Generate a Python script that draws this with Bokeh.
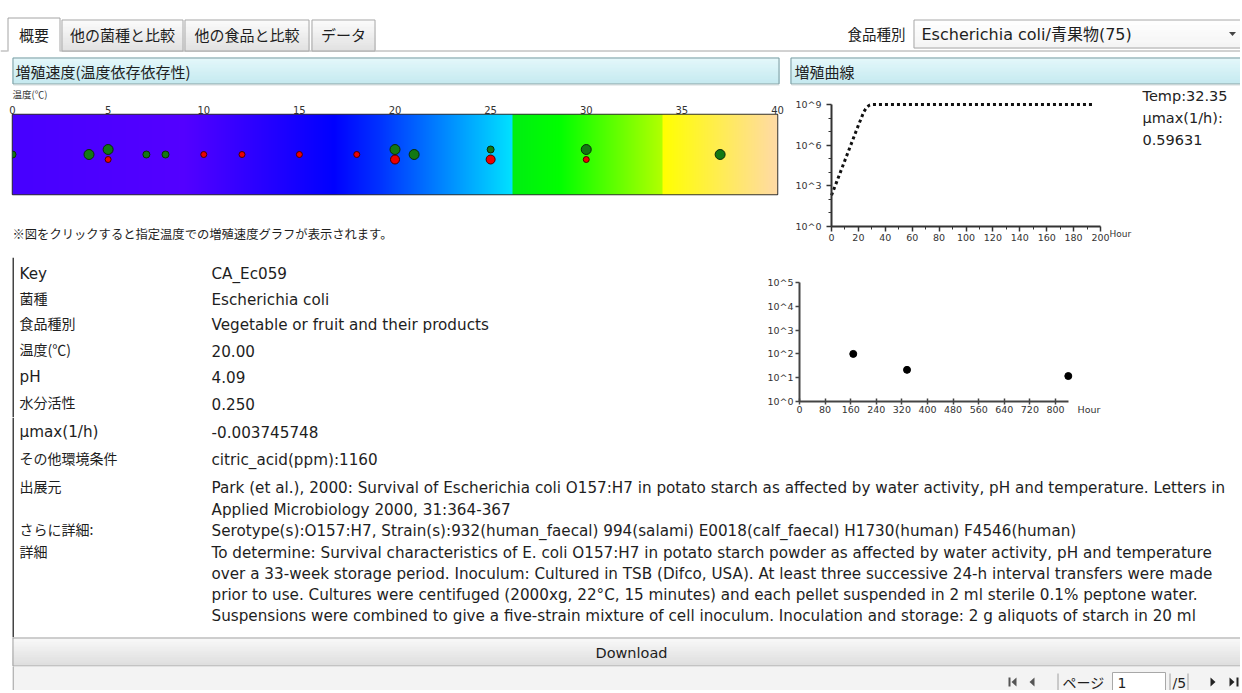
import numpy as np
from bokeh.plotting import figure
from bokeh.models import Range1d, FixedTicker, LinearAxis
from bokeh.layouts import column, row
from bokeh.embed import file_html
from bokeh.resources import INLINE
from bokeh.core.properties import value

# ---------------- data ----------------
tab_labels = ["概要", "他の菌種と比較", "他の食品と比較", "データ"]
selector_label = "食品種別"
selector_value = "Escherichia coli/青果物(75)"
rate_panel_title = "増殖速度(温度依存依存性)"
curve_panel_title = "増殖曲線"
temp_axis_title = "温度(℃)"
note_text = "※図をクリックすると指定温度での増殖速度グラフが表示されます。"

temp_ticks = [0, 5, 10, 15, 20, 25, 30, 35, 40]
growth_temp = [0, 4, 5, 7, 8, 20, 21, 25, 30, 37]
growth_slot = [0, 0, 1, 0, 0, 1, 0, 1, 1, 0]
growth_size = [7, 10, 10, 7, 7, 10, 10, 7, 10, 10]
death_temp = [5, 10, 12, 15, 18, 20, 25, 30]
death_slot = [-1, 0, 0, 0, 0, -1, -1, -1]
death_size = [6, 6, 6, 6, 6, 9, 9, 6]

curve_hour = [0, 4, 8, 12, 16, 20, 24, 26, 28, 30, 34, 40, 80, 120, 160, 195]
curve_log10 = [2.3, 3.33, 4.37, 5.4, 6.44, 7.47, 8.45, 8.78, 8.94, 9.0, 9.0, 9.0, 9.0, 9.0, 9.0, 9.0]
curve_x_ticks = [0, 20, 40, 60, 80, 100, 120, 140, 160, 180, 200]
curve_x_minor = [10, 30, 50, 70, 90, 110, 130, 150, 170, 190]
curve_y_ticks = [0, 3, 6, 9]
curve_y_minor = [1, 2, 4, 5, 7, 8]
curve_info = ["Temp:32.35", "μmax(1/h):", "0.59631"]

obs_hour = [168, 336, 840]
obs_log10 = [2.0, 1.33, 1.07]
obs_x_ticks = [0, 80, 160, 240, 320, 400, 480, 560, 640, 720, 800]
obs_y_ticks = [0, 1, 2, 3, 4, 5]

field_names = ["Key", "菌種", "食品種別", "温度(℃)", "pH", "水分活性",
               "μmax(1/h)", "その他環境条件", "出展元", "さらに詳細:", "詳細"]
field_values = ["CA_Ec059", "Escherichia coli", "Vegetable or fruit and their products",
                "20.00", "4.09", "0.250", "-0.003745748", "citric_acid(ppm):1160"]
source_lines = ["Park (et al.), 2000: Survival of Escherichia coli O157:H7 in potato starch as affected by water activity, pH and temperature.  Letters in",
                "Applied Microbiology 2000, 31:364-367"]
serotype_line = "Serotype(s):O157:H7, Strain(s):932(human_faecal) 994(salami) E0018(calf_faecal) H1730(human) F4546(human)"
detail_lines = ["To determine: Survival characteristics of E. coli O157:H7 in potato starch powder as affected by water activity, pH and temperature",
                "over a 33-week storage period.  Inoculum: Cultured in TSB (Difco, USA). At least three successive 24-h interval transfers were made",
                "prior to use.  Cultures were centifuged (2000xg, 22°C, 15 minutes) and each pellet suspended in 2 ml sterile 0.1% peptone water.",
                "Suspensions were combined to give a five-strain mixture of cell inoculum.  Inoculation and storage: 2 g aliquots of starch in 20 ml"]
download_label = "Download"
page_label = "ページ"
page_current = "1"
page_total = "/5"

# ---------------- style helpers ----------------
JP = "Noto Sans CJK JP"
LAT = "DejaVu Sans"
MIX = "DejaVu Sans, Noto Sans CJK JP"
TICKF = "DejaVu Sans"
BODY = "15.2px"
strip_stops = [(0, "#4600ff"), (9, "#5300ff"), (16.8, "#0000ff"), (19.2, "#0032ff"),
               (26.15, "#00e2ff"), (26.15, "#00ee12"), (28.6, "#00ff00"), (34.0, "#b2ff00"),
               (34.0, "#ffff00"), (40, "#ffdaa6")]


def hex2rgb(h):
    return [int(h[i:i + 2], 16) for i in (1, 3, 5)]


def pfig(x0, x1, y0, y1, bg="white"):
    p = figure(width=x1 - x0, height=y1 - y0, x_range=Range1d(x0, x1), y_range=Range1d(y1, y0),
               toolbar_location=None, output_backend="svg", min_border=0,
               min_border_left=0, min_border_right=0, min_border_top=0, min_border_bottom=0,
               x_axis_location=None, y_axis_location=None, title=None)
    p.grid.visible = False
    p.outline_line_color = None
    p.background_fill_color = bg
    p.border_fill_color = bg
    return p


def txt(p, x, y, s, size="13px", font=JP, color="#1e1e1e", align="left", baseline="middle"):
    p.text(x=[x], y=[y], text=[s], text_font=value(font), text_font_size=size,
           text_color=color, text_align=align, text_baseline=baseline)


def vgrad(p, x0, x1, y0, y1, c0, c1):
    n = max(1, int(round(y1 - y0)))
    a = np.array(hex2rgb(c0), float)
    b = np.array(hex2rgb(c1), float)
    tops = [y0 + (y1 - y0) * i / n for i in range(n)]
    bots = [y0 + (y1 - y0) * (i + 1) / n for i in range(n)]
    cols = ["#%02x%02x%02x" % tuple(int(round(v)) for v in a + (b - a) * (i + 0.5) / n) for i in range(n)]
    p.quad(left=x0, right=x1, top=tops, bottom=bots, fill_color=cols, line_color=cols, line_width=0.6)


def box(p, x0, x1, y0, y1, color="#a0a0a0", width=1):
    p.quad(left=x0, right=x1, top=y0, bottom=y1, fill_color=None, line_color=color, line_width=width)


def hline(p, x0, x1, y, color="#a0a0a0", width=1):
    p.line(x=[x0, x1], y=[y, y], line_color=color, line_width=width)


def vline(p, x, y0, y1, color="#a0a0a0", width=1):
    p.line(x=[x, x], y=[y0, y1], line_color=color, line_width=width)


def style_axis(a, color, size):
    a.axis_line_color = color
    a.axis_line_width = 2
    a.major_tick_line_color = color
    a.major_tick_line_width = 1.5
    a.minor_tick_line_color = color
    a.minor_tick_line_width = 1
    a.major_label_text_font = TICKF
    a.major_label_text_font_size = size
    a.major_label_text_color = "#333333"


def is_latin(s_):
    return all(ord(c) < 0x2000 for c in s_)


def field(p, k, y):
    nm = field_names[k]
    if is_latin(nm):
        txt(p, 19, y, nm, size=BODY, font=LAT)
    else:
        txt(p, 19, y - 1.5, nm, size="14px", font=JP)


W = 1240
Y3 = 417
YS = 102   # top of the temperature strip figure

# ---------------- top bar: tabs + selector ----------------
f_top = pfig(0, W, 0, 52)
hline(f_top, 0, W, 50.5, "#a4a4a4")
tab_spans = [(7, 60), (61, 183), (184, 309), (311, 375)]
for i, (lab, (a, b)) in enumerate(zip(tab_labels, tab_spans)):
    if i == 0:
        f_top.quad(left=a, right=b, top=17, bottom=51.5, fill_color="white", line_color=None)
        f_top.line(x=[a + 0.5, a + 0.5, b - 0.5, b - 0.5], y=[51, 17.5, 17.5, 51], line_color="#a4a4a4")
    else:
        vgrad(f_top, a, b, 19, 50, "#fcfcfc", "#e0e0e0")
        box(f_top, a + 0.5, b - 0.5, 19.5, 50.5, "#a9a9a9")
    txt(f_top, (a + b) / 2, 34, lab, size="15px", align="center")
txt(f_top, 905, 33, selector_label, size="14.5px", align="right")
vgrad(f_top, 913, W + 4, 19, 48, "#ffffff", "#f3f3f3")
box(f_top, 913.5, W + 4, 19.5, 47.5, "#a8a8a8")
txt(f_top, 921, 33.5, selector_value, size="16px", font=MIX)
f_top.patch(x=[1228.5, 1235.5, 1232], y=[31.5, 31.5, 35.5], fill_color="#444", line_color=None)

# ---------------- left header ----------------
f_lhead = pfig(0, 785, 52, YS)
vgrad(f_lhead, 12, 779, 57, 83, "#e4f8fb", "#c3e9ef")
box(f_lhead, 12.5, 778.5, 57.5, 83.5, "#7f9ca1")
hline(f_lhead, 13, 779, 84.5, "#d4dcdd", 1)
txt(f_lhead, 15, 71, rate_panel_title, size="15px")
txt(f_lhead, 12, 93.5, temp_axis_title, size="9.5px", color="#333")

# ---------------- temperature strip ----------------
st = figure(width=785, height=200 - YS, x_range=Range1d(0, 40), y_range=Range1d(-8, 8),
            x_axis_location="above", y_axis_location=None, toolbar_location=None,
            output_backend="svg", title=None, min_border_left=12, min_border_right=8,
            min_border_top=114 - YS, min_border_bottom=6)
st.grid.visible = False
st.outline_line_color = "#333333"
st.outline_line_width = 1.5
ax = st.xaxis[0]
ax.ticker = FixedTicker(ticks=temp_ticks)
ax.axis_line_color = None
ax.major_tick_line_color = None
ax.minor_tick_line_color = None
ax.major_tick_out = 0
ax.major_tick_in = 0
ax.major_label_standoff = 1
ax.major_label_text_font = TICKF
ax.major_label_text_font_size = "10px"
ax.major_label_text_color = "#333333"

ncol = 765
tcent = (np.arange(ncol) + 0.5) / ncol * 40
xp = [s_[0] for s_ in strip_stops]
rgb = np.stack([np.interp(tcent, xp, [hex2rgb(s_[1])[k] for s_ in strip_stops]) for k in range(3)], axis=1)
img = np.zeros((1, ncol), dtype=np.uint32)
view = img.view(dtype=np.uint8).reshape((1, ncol, 4))
view[0, :, 0:3] = np.round(rgb).astype(np.uint8)
view[0, :, 3] = 255
st.image_rgba(image=[img], x=0, y=-8, dw=40, dh=16)
st.scatter(x=growth_temp, y=growth_slot, size=growth_size, fill_color="#137813",
           line_color="#0a2a0a", line_width=1)
st.scatter(x=death_temp, y=death_slot, size=death_size, fill_color="#ee0000",
           line_color="#4a0000", line_width=1)

# ---------------- note ----------------
f_note = pfig(0, 785, 200, 252)
txt(f_note, 12, 233, note_text, size="12.3px")

# ---------------- right header ----------------
f_rhead = pfig(785, W, 52, 88)
vgrad(f_rhead, 790, W + 4, 57, 83, "#e4f8fb", "#c3e9ef")
box(f_rhead, 790.5, W + 4, 57.5, 83.5, "#7f9ca1")
hline(f_rhead, 791, W, 84.5, "#d4dcdd", 1)
txt(f_rhead, 794, 71, curve_panel_title, size="15px")

# ---------------- growth curve ----------------
GX = 269 / 200.0       # px per hour
GY = 122 / 9.0         # px per log10 unit
G0X, G0Y = 831, 226    # pixel position of the origin
g = figure(width=W - 785, height=164, x_range=Range1d(-(G0X - 785) / GX, (W - G0X) / GX),
           y_range=Range1d(-(252 - G0Y) / GY, (G0Y - 88) / GY),
           x_axis_location=None, y_axis_location=None,
           toolbar_location=None, output_backend="svg", title=None,
           min_border_left=0, min_border_right=0, min_border_top=0, min_border_bottom=0)
g.grid.visible = False
g.outline_line_color = None
gx = LinearAxis(fixed_location=0)
gy = LinearAxis(fixed_location=0)
g.add_layout(gx, "below")
g.add_layout(gy, "left")
gx.ticker = FixedTicker(ticks=curve_x_ticks, minor_ticks=curve_x_minor)
gy.ticker = FixedTicker(ticks=curve_y_ticks, minor_ticks=curve_y_minor)
gy.major_label_overrides = {t: "10^%d" % t for t in curve_y_ticks}
gx.bounds = (0, 200)
gy.bounds = (0, 9)
for a in (gx, gy):
    style_axis(a, "#333333", "9.5px")
    a.major_tick_in = 0
    a.minor_tick_in = 0
    a.major_tick_out = 5
    a.minor_tick_out = 3
gx.major_label_standoff = 2
gy.major_label_standoff = 5
g.line(x=curve_hour, y=curve_log10, line_color="#111111", line_width=3, line_dash="3 3")
for k, s_ in enumerate(curve_info):
    g.text(x=[(1142 - G0X) / GX], y=[(G0Y - (95 + 22 * k)) / GY], text=[s_],
           text_font=value(TICKF), text_font_size="14.5px", text_color="#222222",
           text_baseline="middle", text_align="left")
g.text(x=[(1109 - G0X) / GX], y=[-(233 - G0Y) / GY], text=["Hour"], text_font=value(TICKF),
       text_font_size="9px", text_color="#333333", text_baseline="middle", text_align="left")

# ---------------- box top border ----------------
f_border = pfig(0, W, 252, 257)
hline(f_border, 12, W, 254.5, "#444444", 1.5)
vline(f_border, 12.75, 254, 257, "#444444", 1.5)

# ---------------- table rows (upper) ----------------
row_y = [273, 299, 324, 350, 376, 403, 431, 459, 487]
f_t1 = pfig(0, 755, 257, Y3)
vline(f_t1, 12.75, 257, Y3, "#444444", 1.5)
for k in range(6):
    field(f_t1, k, row_y[k])
    txt(f_t1, 211, row_y[k], field_values[k], size=BODY, font=LAT)

# ---------------- observed data chart ----------------
SX = 256 / 800.0
SY = 119 / 5.0
S0X, S0Y = 799, 401
s = figure(width=W - 755, height=Y3 - 257, x_range=Range1d(-(S0X - 755) / SX, (W - S0X) / SX),
           y_range=Range1d(-(Y3 - S0Y) / SY, (S0Y - 257) / SY),
           x_axis_location=None, y_axis_location=None,
           toolbar_location=None, output_backend="svg", title=None,
           min_border_left=0, min_border_right=0, min_border_top=0, min_border_bottom=0)
s.grid.visible = False
s.outline_line_color = None
sx_ = LinearAxis(fixed_location=0)
sy_ = LinearAxis(fixed_location=0)
s.add_layout(sx_, "below")
s.add_layout(sy_, "left")
sx_.ticker = FixedTicker(ticks=obs_x_ticks)
sy_.ticker = FixedTicker(ticks=obs_y_ticks)
sy_.major_label_overrides = {t: "10^%d" % t for t in obs_y_ticks}
sx_.bounds = (0, 840)
sy_.bounds = (0, 5)
for a in (sx_, sy_):
    style_axis(a, "#444444", "9.5px")
    a.minor_tick_line_color = None
sx_.major_tick_in = 3
sx_.major_tick_out = 3
sx_.major_label_standoff = 1
sy_.major_tick_in = 0
sy_.major_tick_out = 4
sy_.major_label_standoff = 2
s.scatter(x=obs_hour, y=obs_log10, size=7, fill_color="black", line_color="black")
s.text(x=[(1077 - S0X) / SX], y=[-(409 - S0Y) / SY], text=["Hour"], text_font=value(TICKF),
       text_font_size="9.5px", text_color="#333333", text_baseline="middle", text_align="left")

# ---------------- table rows (lower) + download + pager ----------------
f_bottom = pfig(0, W, Y3, 690)
vline(f_bottom, 12.75, Y3, 638, "#444444", 1.5)
for k in (6, 7):
    field(f_bottom, k, row_y[k])
    txt(f_bottom, 211, row_y[k], field_values[k], size=BODY, font=LAT)
field(f_bottom, 8, 487)
txt(f_bottom, 211, 487, source_lines[0], size=BODY, font=LAT)
txt(f_bottom, 211, 509, source_lines[1], size=BODY, font=LAT)
field(f_bottom, 9, 530)
txt(f_bottom, 211, 530, serotype_line, size=BODY, font=LAT)
field(f_bottom, 10, 552)
for k, line in enumerate(detail_lines):
    txt(f_bottom, 211, 552 + 21.2 * k, line, size=BODY, font=LAT)

vgrad(f_bottom, 12, W + 4, 637, 665, "#fafafa", "#dcdcdc")
box(f_bottom, 12.5, W + 4, 637.5, 665.5, "#a2a2a2")
txt(f_bottom, 631, 652, download_label, size="14.5px", font=LAT, align="center")

f_bottom.quad(left=12, right=W, top=666, bottom=690, fill_color="#f3f3f3", line_color=None)
vline(f_bottom, 12.75, 666, 690, "#a2a2a2", 1)
f_bottom.quad(left=1008, right=1010, top=677, bottom=686, fill_color="#555", line_color=None)
f_bottom.patch(x=[1016, 1016, 1011], y=[677, 686, 681.5], fill_color="#555", line_color=None)
f_bottom.patch(x=[1034, 1034, 1029], y=[677, 686, 681.5], fill_color="#555", line_color=None)
vline(f_bottom, 1057.5, 673, 690, "#a0a0a0")
txt(f_bottom, 1062, 681, page_label, size="14px")
f_bottom.quad(left=1112, right=1165, top=672, bottom=692, fill_color="white", line_color="#a8a8a8")
txt(f_bottom, 1117, 682, page_current, size="14px", font=LAT)
vline(f_bottom, 1169.5, 673, 690, "#a0a0a0")
txt(f_bottom, 1172, 682, page_total, size="14px", font=LAT)
vline(f_bottom, 1187.5, 673, 690, "#a0a0a0")
f_bottom.patch(x=[1210, 1210, 1215], y=[677, 686, 681.5], fill_color="#222", line_color=None)
f_bottom.patch(x=[1229, 1229, 1234], y=[677, 686, 681.5], fill_color="#222", line_color=None)
f_bottom.quad(left=1236, right=1238, top=677, bottom=686, fill_color="#222", line_color=None)

layout = column(
    f_top,
    row(column(row(f_lhead), row(st), row(f_note)), column(row(f_rhead), row(g))),
    f_border,
    row(column(f_t1), column(s)),
    f_bottom,
)

open("out.html", "w").write(file_html(layout, INLINE))
